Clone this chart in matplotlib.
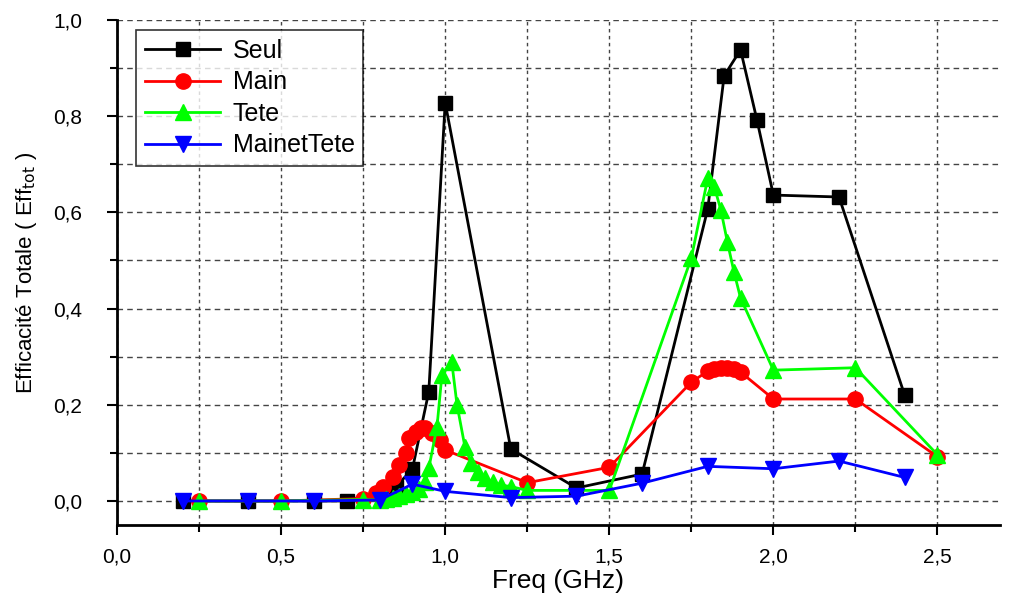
import matplotlib
matplotlib.use("Agg")
import matplotlib.pyplot as plt
from matplotlib.ticker import MultipleLocator, FuncFormatter

plt.rcParams['font.family'] = ['Liberation Sans', 'DejaVu Sans']

# Seul (black squares)
seul_x = [0.2, 0.4, 0.6, 0.7, 0.85, 0.9, 0.95, 1.0, 1.2, 1.4, 1.6, 1.8, 1.85, 1.9, 1.95, 2.0, 2.2, 2.4]
seul_y = [0.0, 0.0, 0.0, 0.0, 0.03, 0.066, 0.227, 0.828, 0.108, 0.027, 0.056, 0.607, 0.884, 0.938, 0.792, 0.636, 0.632, 0.22]

# Main (red circles)
main_x = [0.25, 0.5, 0.75, 0.79, 0.81, 0.84, 0.86, 0.88, 0.89, 0.91, 0.925, 0.94, 0.96, 0.985, 1.0,
          1.25, 1.5, 1.75, 1.8, 1.82, 1.84, 1.86, 1.88, 1.9, 2.0, 2.25, 2.5]
main_y = [0.0, 0.0, 0.005, 0.016, 0.03, 0.05, 0.075, 0.1, 0.13, 0.143, 0.152, 0.152, 0.141, 0.127, 0.106,
          0.038, 0.07, 0.247, 0.27, 0.275, 0.277, 0.277, 0.275, 0.268, 0.212, 0.212, 0.092]

# Tete (green up triangles)
tete_x = [0.25, 0.5, 0.75, 0.8, 0.82, 0.84, 0.86, 0.88, 0.9, 0.92, 0.94, 0.95, 0.975, 0.99, 1.02, 1.036,
          1.06, 1.08, 1.1, 1.12, 1.146, 1.17, 1.2, 1.25, 1.5, 1.75, 1.8, 1.82, 1.84, 1.86, 1.88, 1.9,
          2.0, 2.25, 2.5]
tete_y = [0.0, 0.0, 0.003, 0.002, 0.004, 0.006, 0.01, 0.014, 0.018, 0.025, 0.04, 0.068, 0.154, 0.262, 0.289, 0.2,
          0.113, 0.078, 0.06, 0.047, 0.04, 0.033, 0.03, 0.022, 0.022, 0.505, 0.671, 0.653, 0.605, 0.538, 0.476, 0.422,
          0.272, 0.277, 0.096]

# MainetTete (blue down triangles)
mt_x = [0.2, 0.4, 0.6, 0.8, 0.9, 1.0, 1.2, 1.4, 1.6, 1.8, 2.0, 2.2, 2.4]
mt_y = [0.0, 0.0, 0.0, 0.002, 0.035, 0.02, 0.007, 0.01, 0.037, 0.072, 0.067, 0.083, 0.049]

fig = plt.figure(figsize=(10.13, 5.95), dpi=100)
ax = fig.add_axes([0.1155, 0.1176, 0.8715, 0.8488])

ax.plot(seul_x, seul_y, '-s', color='black', lw=2, ms=10, label='Seul')
ax.plot(main_x, main_y, '-o', color='#ff0000', lw=2, ms=11, label='Main')
ax.plot(tete_x, tete_y, '-^', color='#00ff00', lw=2, ms=11, label='Tete')
ax.plot(mt_x, mt_y, '-v', color='#0000ff', lw=2, ms=11, label='MainetTete')

ax.set_xlim(0, 2.69)
ax.set_ylim(-0.05, 1.0)
ax.xaxis.set_major_locator(MultipleLocator(0.5))
ax.xaxis.set_minor_locator(MultipleLocator(0.25))
ax.yaxis.set_major_locator(MultipleLocator(0.2))
ax.yaxis.set_minor_locator(MultipleLocator(0.1))
fmt = FuncFormatter(lambda v, p: f"{v:.1f}".replace('.', ','))
ax.xaxis.set_major_formatter(fmt)
ax.yaxis.set_major_formatter(fmt)

for s in ['top', 'right']:
    ax.spines[s].set_visible(False)
for s in ['left', 'bottom']:
    ax.spines[s].set_linewidth(2)

ax.tick_params(which='major', direction='out', length=7, width=1.5, labelsize=15)
ax.tick_params(axis='x', which='major', pad=9)
ax.tick_params(axis='y', which='major', pad=18)
ax.tick_params(which='minor', direction='out', length=5, width=1.5)

ax.grid(True, which='both', axis='x', linestyle=(0, (2.5, 2.5)), color='#444444', lw=1)
ax.grid(True, which='both', axis='y', linestyle=(0, (4, 3)), color='#444444', lw=1)
ax.set_axisbelow(True)

ax.set_xlabel('Freq (GHz)', fontsize=19, labelpad=2)
ax.set_ylabel(r'Efficacité Totale ( Eff$_{\rm tot}$ )', fontsize=16, labelpad=10)

leg = ax.legend(loc='upper left', bbox_to_anchor=(0.022, 0.98), fontsize=18, frameon=True,
                fancybox=False, edgecolor='black', handlelength=3.0, borderpad=0.35,
                labelspacing=0.3, handletextpad=0.5, borderaxespad=0)
leg.get_frame().set_linewidth(1.2)

fig.savefig('out.png', dpi=100)
